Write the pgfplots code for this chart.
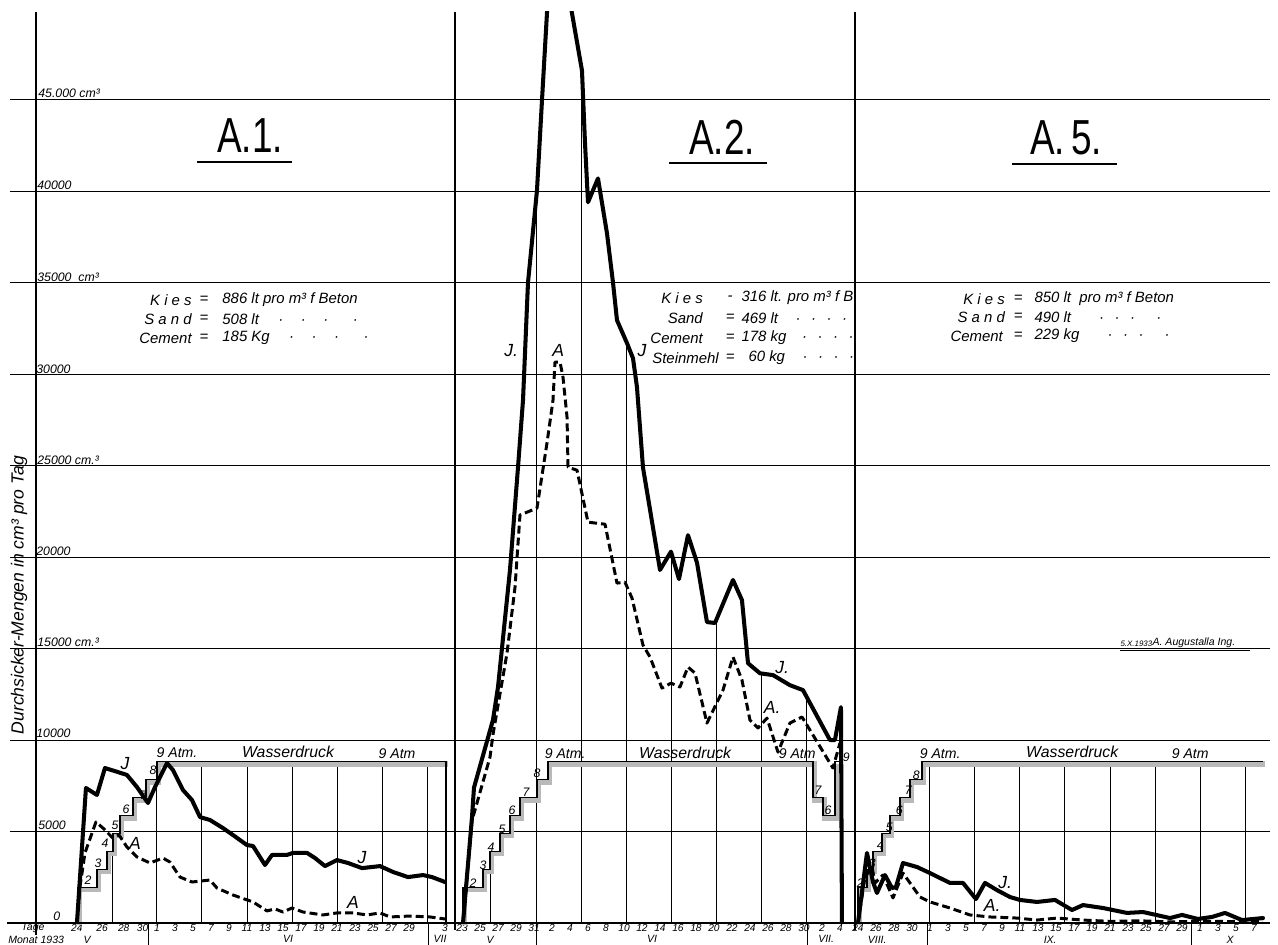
\documentclass[border=0pt]{standalone}
\usepackage{fontspec}
\setmainfont{Liberation Sans}
\usepackage{graphicx}
\usepackage{pgfplots}
\pgfplotsset{compat=1.18}
\tikzset{
  Jline/.style={black, line width=2.3pt, line join=round, line cap=round},
  Aline/.style={black, line width=1.7pt, dash pattern=on 4.5pt off 2.3pt, line join=round},
  pgray/.style={gray!55, line width=3.2pt, yshift=-1.3pt, xshift=0.9pt},
  pblack/.style={black, line width=0.7pt},
  vgrid/.style={black, line width=0.55pt},
  hw/.style={font=\itshape\fontsize{7}{8}\selectfont, inner sep=0pt},
  comp/.style={font=\itshape\fontsize{8.5}{10}\selectfont, inner sep=0pt},
  lab/.style={font=\itshape\fontsize{10}{12}\selectfont, inner sep=0pt},
  stp/.style={font=\itshape\fontsize{7}{8}\selectfont, inner sep=0pt},
  mon/.style={font=\itshape\fontsize{6}{7}\selectfont, inner sep=0pt},
  ttl/.style={font=\fontsize{28}{30}\selectfont, inner sep=0pt},
}
\pgfplotsset{
  panel/.style={scale only axis, height=18.22cm, ymin=0, ymax=49800,
    axis line style={draw=none}, ytick={0,5000,...,45000}, yticklabels={},
    scaled y ticks=false, scaled x ticks=false,
    ymajorgrids, major grid style={black, line width=0.6pt},
    tick style={draw=none}, clip mode=individual, anchor=south west,
    xticklabel style={font=\fontsize{5.8}{6.5}\selectfont\itshape, inner sep=0.8pt},
  },
}
\begin{document}
\begin{tikzpicture}
% ---------------- A.1 ----------------
\begin{axis}[panel, at={(0cm,0cm)}, width=8.38cm, xmin=-12.44, xmax=34.11,
  xtick={-7.9,-5.1,-2.7,-0.6,1,3,5,7,9,11,13,15,17,19,21,23,25,27,29,33},
  xticklabels={24,26,28,30,1,3,5,7,9,11,13,15,17,19,21,23,25,27,29,3}]
\draw[vgrid] (axis cs:-3.89,0) -- (axis cs:-3.89,3920);
\draw[vgrid] (axis cs:1,0) -- (axis cs:1,7840);
\pgfplotsinvokeforeach{6,11,16,21,26,31}{\draw[vgrid] (axis cs:#1,0) -- (axis cs:#1,8820);}
\addplot[pgray] coordinates {(-7.78,0)(-7.78,1960)(-5.67,1960)(-5.67,2940)(-4.56,2940)(-4.56,3920)(-3.89,3920)(-3.89,4900)(-3.11,4900)(-3.11,5880)(-1.67,5880)(-1.67,6860)(-0.22,6860)(-0.22,7840)(1,7840)(1,8820)(33.11,8820)};
\addplot[pblack] coordinates {(-7.78,0)(-7.78,1960)(-5.67,1960)(-5.67,2940)(-4.56,2940)(-4.56,3920)(-3.89,3920)(-3.89,4900)(-3.11,4900)(-3.11,5880)(-1.67,5880)(-1.67,6860)(-0.22,6860)(-0.22,7840)(1,7840)(1,8820)(33.11,8820)(33.11,0)};
% A (dashed)
\addplot[Aline] coordinates {(-7.89,0)(-7.56,1970)(-7.0,3830)(-5.78,5520)(-5.0,5190)(-3.89,4640)(-3.22,4810)(-2.33,4150)(-1.22,3610)(0.22,3280)(1.67,3550)(2.44,3330)(3.56,2510)(4.89,2240)(6.89,2350)(7.67,1910)(9.44,1530)(11.67,1150)(13.22,660)(14.11,770)(15.0,600)(16.0,820)(17.22,600)(19.44,440)(21.0,550)(22.78,550)(24.33,440)(25.78,550)(26.89,330)(29.11,380)(31.33,330)(33.0,220)};
% J (solid)
\addplot[Jline] coordinates {(-7.89,0)(-6.89,7380)(-5.67,7000)(-4.78,8470)(-3.33,8250)(-2.33,8090)(-1.22,7430)(0,6560)(0.78,7430)(2.11,8740)(2.78,8360)(3.89,7270)(4.89,6720)(5.78,5790)(6.89,5630)(8.33,5190)(9.44,4810)(11.0,4260)(11.67,4210)(13.0,3170)(13.78,3720)(15.44,3720)(16.11,3830)(17.67,3830)(18.56,3550)(19.67,3110)(21.0,3440)(22.22,3280)(23.78,3000)(25.78,3110)(27.22,2790)(28.89,2510)(30.56,2620)(31.56,2510)(33.0,2240)};
\end{axis}
% ---------------- A.2 ----------------
\begin{axis}[panel, at={(8.38cm,0cm)}, width=8.0cm, xmin=-8.78, xmax=35.67,
  xtick={-8,-6,-4,-2,0,2,4,6,8,10,12,14,16,18,20,22,24,26,28,30,32,34},
  xticklabels={23,25,27,29,31,2,4,6,8,10,12,14,16,18,20,22,24,26,28,30,2,4}]
\draw[vgrid] (axis cs:-4.89,0) -- (axis cs:-4.89,2940);
\draw[vgrid] (axis cs:0.33,0) -- (axis cs:0.33,40050);
\draw[vgrid] (axis cs:5.33,0) -- (axis cs:5.33,46600);
\draw[vgrid] (axis cs:10.33,0) -- (axis cs:10.33,31700);
\draw[vgrid] (axis cs:15.33,0) -- (axis cs:15.33,20100);
\draw[vgrid] (axis cs:20.33,0) -- (axis cs:20.33,16400);
\draw[vgrid] (axis cs:25.33,0) -- (axis cs:25.33,13650);
\draw[vgrid] (axis cs:30.33,0) -- (axis cs:30.33,12600);
\addplot[pgray] coordinates {(-7.89,0)(-7.89,1960)(-5.67,1960)(-5.67,2940)(-4.89,2940)(-4.89,3920)(-3.78,3920)(-3.78,4900)(-2.67,4900)(-2.67,5880)(-1.56,5880)(-1.56,6860)(0.33,6860)(0.33,7840)(1.56,7840)(1.56,8820)(31.0,8820)(31.0,6860)(32.11,6860)(32.11,5880)(33.44,5880)(33.44,8820)};
\addplot[pblack] coordinates {(-7.89,0)(-7.89,1960)(-5.67,1960)(-5.67,2940)(-4.89,2940)(-4.89,3920)(-3.78,3920)(-3.78,4900)(-2.67,4900)(-2.67,5880)(-1.56,5880)(-1.56,6860)(0.33,6860)(0.33,7840)(1.56,7840)(1.56,8820)(31.0,8820)(31.0,6860)(32.11,6860)(32.11,5880)(33.44,5880)(33.44,8820)(34.22,8820)(34.22,0)};
\addplot[Aline] coordinates {(-7.89,0)(-6.89,5600)(-4.89,9070)(-4.56,10300)(-3.0,14750)(-2.11,18360)(-1.56,22300)(0.33,22680)(1.44,26230)(2.11,28580)(2.33,30660)(2.89,30660)(3.22,29840)(3.67,27650)(3.78,24920)(4.78,24750)(6.0,21910)(7.89,21800)(9.22,18580)(10.11,18630)(10.89,17760)(12.11,15190)(12.89,14540)(14.22,12840)(15.22,13110)(16.22,12900)(17.11,13990)(17.89,13660)(19.22,10930)(21.0,12730)(22.11,14540)(23.11,13280)(24.0,11090)(24.89,10660)(25.89,11200)(27.11,9340)(28.44,10930)(29.78,11260)(30.33,10820)(33.22,8470)(34.0,9840)};
\addplot[Jline] coordinates {(-7.89,0)(-6.89,5800)(-6.67,7400)(-4.56,11100)(-4.0,12900)(-2.67,19300)(-1.78,24900)(-1.22,28600)(-0.67,35000)(0.33,40050)(0.89,45000)(1.44,49730)(2.11,55500)(4.22,49730)(5.33,46600)(5.67,42600)(6.0,39400)(7.11,40700)(8.11,37700)(8.78,35000)(9.22,32950)(10.33,31700)(11.0,30870)(11.44,29300)(12.11,24900)(12.89,22600)(14.0,19300)(15.22,20300)(16.11,18800)(17.11,21200)(18.11,19700)(19.22,16450)(20.11,16400)(22.11,18750)(23.11,17650)(23.78,14200)(25.11,13650)(26.56,13550)(28.44,13000)(29.89,12730)(32.89,10000)(33.44,10000)(34.11,11800)(34.22,0)};
\end{axis}
% ---------------- A.5 ----------------
\begin{axis}[panel, at={(16.38cm,0cm)}, width=8.3cm, xmin=-7.33, xmax=38.78,
  xtick={-7,-5,-3,-1,1,3,5,7,9,11,13,15,17,19,21,23,25,27,29,31,33,35,37},
  xticklabels={24,26,28,30,1,3,5,7,9,11,13,15,17,19,21,23,25,27,29,1,3,5,7}]
\pgfplotsinvokeforeach{1,6,11,16,21,26,31,36}{\draw[vgrid] (axis cs:#1,0) -- (axis cs:#1,8820);}
\addplot[pgray] coordinates {(-7,0)(-7,1960)(-6,1960)(-6,2940)(-5.33,2940)(-5.33,3920)(-4.33,3920)(-4.33,4900)(-3.44,4900)(-3.44,5880)(-2.33,5880)(-2.33,6860)(-1.22,6860)(-1.22,7840)(0.11,7840)(0.11,8820)(38,8820)};
\addplot[pblack] coordinates {(-7,0)(-7,1960)(-6,1960)(-6,2940)(-5.33,2940)(-5.33,3920)(-4.33,3920)(-4.33,4900)(-3.44,4900)(-3.44,5880)(-2.33,5880)(-2.33,6860)(-1.22,6860)(-1.22,7840)(0.11,7840)(0.11,8820)(38,8820)};
\addplot[Aline] coordinates {(-7.0,0)(-6.22,2500)(-5.44,3060)(-5.11,2190)(-4.22,2620)(-3.11,1370)(-2.0,2730)(-0.11,1420)(1.0,1150)(3.22,820)(5.44,440)(7.67,330)(10.67,270)(12.89,160)(15.11,270)(18.0,160)(21.0,90)(24.33,120)(27.67,60)(31.0,100)(34.33,80)(38.0,110)};
\addplot[Jline] coordinates {(-7.0,0)(-6.0,3830)(-5.33,2240)(-4.89,1640)(-4.0,2620)(-3.22,1910)(-2.78,1970)(-2.0,3280)(-0.44,3060)(1.0,2730)(3.22,2190)(4.67,2190)(6.11,1310)(7.11,2190)(8.44,1800)(9.89,1420)(11.0,1260)(12.89,1150)(14.89,1260)(16.78,710)(18.0,980)(20.22,820)(22.89,550)(24.67,600)(27.67,270)(29.0,440)(30.78,220)(32.33,330)(33.78,550)(35.67,160)(38.0,270)};
\end{axis}
% ---------------- frame and lettering (pixel grid of the sheet) ----------------
\begin{scope}[x=0.02cm, y=-0.02cm, shift={(-0.72cm,18.46cm)}]
  \foreach \v in {1,...,9} {\draw[line width=0.6pt] (10,{923-\v*91.47}) -- (36,{923-\v*91.47});}
  \draw[line width=1.3pt] (7,923) -- (1270,923);
  \draw[line width=1.1pt] (36,12) -- (36,935);
  \draw[line width=1.0pt] (455,12) -- (455,930);
  \draw[line width=1.0pt] (855,12) -- (855,930);
  \foreach \px in {148,428,536,807,927,1191} {\draw[line width=0.6pt] (\px,923) -- (\px,945);}
  % y values
  \node[hw, anchor=base west] at (38,97) {45.000 cm³};
  \node[hw, anchor=base west] at (37,189) {40000};
  \node[hw, anchor=base west] at (37,281) {35000\ \ cm³};
  \node[hw, anchor=base west] at (36,373) {30000};
  \node[hw, anchor=base west] at (37,464) {25000\ cm.³};
  \node[hw, anchor=base west] at (36,555) {20000};
  \node[hw, anchor=base west] at (37,646) {15000\ cm.³};
  \node[hw, anchor=base west] at (36,737) {10000};
  \node[hw, anchor=base west] at (38,829) {5000};
  \node[hw, anchor=base west] at (53,920) {0};
  \node[lab, rotate=90] at (19,595) {Durchsicker-Mengen in cm³ pro Tag};
  % bottom rows
  \node[mon] at (33,928) {Tage};
  \node[mon, anchor=west] at (8,940) {Monat 1933};
  \node[mon] at (87,940) {V};
  \node[mon] at (288,939) {VI};
  \node[mon] at (440,939) {VII};
  \node[mon] at (490,940) {V};
  \node[mon] at (652,939) {VI};
  \node[mon] at (826,939) {VII.};
  \node[mon] at (877,940) {VIII.};
  \node[mon] at (1050,940) {IX.};
  \node[mon] at (1230,940) {X};
  % titles
  \node[ttl] at (250,136) {\scalebox{0.75}[1]{A.1.}};
  \draw[line width=1.6pt] (197,162) -- (292,162);
  \node[ttl] at (722,137) {\scalebox{0.75}[1]{A.2.}};
  \draw[line width=1.6pt] (669,163) -- (767,163);
  \node[ttl] at (1066,138) {\scalebox{0.75}[1]{A.\,5.}};
  \draw[line width=1.6pt] (1012,164) -- (1117,164);
  % mixtures
  \node[comp, anchor=east] at (192,300) {K i e s};
  \node[comp] at (204,300) {=};
  \node[comp, anchor=west] at (222,300) {886 lt pro m³ f Beton};
  \node[comp, anchor=east] at (192,319) {S a n d};
  \node[comp] at (204,319) {=};
  \node[comp, anchor=west] at (222,319) {508 lt\hspace{11pt}·\hspace{10pt}·\hspace{10pt}·\hspace{14pt}·};
  \node[comp, anchor=east] at (192,338) {Cement};
  \node[comp] at (204,338) {=};
  \node[comp, anchor=west] at (222,338) {185 Kg\hspace{11pt}·\hspace{10pt}·\hspace{10pt}·\hspace{14pt}·};
  \node[comp, anchor=east] at (703,298) {K i e s};
  \node[comp] at (730,298) {-};
  \node[comp, anchor=west] at (741,298) {316 lt. pro m³ f B};
  \node[comp, anchor=east] at (703,318) {Sand};
  \node[comp] at (730,318) {=};
  \node[comp, anchor=west] at (741,318) {469 lt\hspace{10pt}·\hspace{6pt}·\hspace{6pt}·\hspace{6pt}·};
  \node[comp, anchor=east] at (703,338) {Cement};
  \node[comp] at (730,338) {=};
  \node[comp, anchor=west] at (741,338) {178 kg\hspace{9pt}·\hspace{6pt}·\hspace{6pt}·\hspace{6pt}·};
  \node[comp, anchor=east] at (719,358) {Steinmehl};
  \node[comp] at (730,358) {=};
  \node[comp, anchor=west] at (748,358) {60 kg\hspace{10pt}·\hspace{6pt}·\hspace{6pt}·\hspace{6pt}·};
  \node[comp, anchor=east] at (1005,299) {K i e s};
  \node[comp] at (1018,299) {=};
  \node[comp, anchor=west] at (1034,299) {850 lt\ \ pro m³ f Beton};
  \node[comp, anchor=east] at (1005,317) {S a n d};
  \node[comp] at (1018,317) {=};
  \node[comp, anchor=west] at (1034,317) {490 lt\hspace{16pt}·\hspace{6pt}·\hspace{6pt}·\hspace{12pt}·};
  \node[comp, anchor=east] at (1003,336) {Cement};
  \node[comp] at (1018,336) {=};
  \node[comp, anchor=west] at (1034,336) {229 kg\hspace{16pt}·\hspace{6pt}·\hspace{6pt}·\hspace{12pt}·};
  % curve labels
  \node[lab] at (125,763) {J};
  \node[lab] at (135,843) {A};
  \node[lab] at (362,857) {J};
  \node[lab] at (353,902) {A};
  \node[lab] at (511,350) {J.};
  \node[lab] at (558,350) {A};
  \node[lab] at (642,350) {J};
  \node[lab] at (782,667) {J.};
  \node[lab] at (772,707) {A.};
  \node[lab] at (1005,882) {J.};
  \node[lab] at (992,905) {A.};
  % pressure steps
  \foreach \x/\y/\t in {88/880/2,98/863/3,105/843/4,115/825/5,126/809/6,143/795/7,153/770/8,
     473/883/2,483/865/3,491/847/4,502/829/5,512/810/6,526/792/7,537/773/8,818/790/7,828/810/6,846/757/9,
     860/883/2,872/863/3,880/845/4,889/827/5,899/810/6,908/790/7,916/775/8}
     {\node[stp] at (\x,\y) {\t};}
  \node[stp, font=\itshape\fontsize{8}{9}\selectfont] at (177,753) {9 Atm.};
  \node[stp, font=\itshape\fontsize{9}{10}\selectfont] at (288,752) {Wasserdruck};
  \node[stp, font=\itshape\fontsize{8}{9}\selectfont] at (397,754) {9 Atm};
  \node[stp, font=\itshape\fontsize{8}{9}\selectfont] at (565,754) {9 Atm.};
  \node[stp, font=\itshape\fontsize{9}{10}\selectfont] at (685,753) {Wasserdruck};
  \node[stp, font=\itshape\fontsize{8}{9}\selectfont] at (797,754) {9 Atm};
  \node[stp, font=\itshape\fontsize{8}{9}\selectfont] at (940,754) {9 Atm.};
  \node[stp, font=\itshape\fontsize{9}{10}\selectfont] at (1072,752) {Wasserdruck};
  \node[stp, font=\itshape\fontsize{8}{9}\selectfont] at (1190,754) {9 Atm};
  % signature
  \node[font=\itshape\fontsize{4.5}{5}\selectfont, inner sep=0pt, anchor=west] at (1120,644) {5.X.1933};
  \node[font=\itshape\fontsize{6}{7}\selectfont, inner sep=0pt, anchor=west] at (1152,643) {A. Augustalla Ing.};
  \draw[line width=0.5pt] (1120,650) -- (1250,650);
\end{scope}
\pgfresetboundingbox
\useasboundingbox (-0.72,-0.44) rectangle (24.84,18.46);
\end{tikzpicture}
\end{document}
